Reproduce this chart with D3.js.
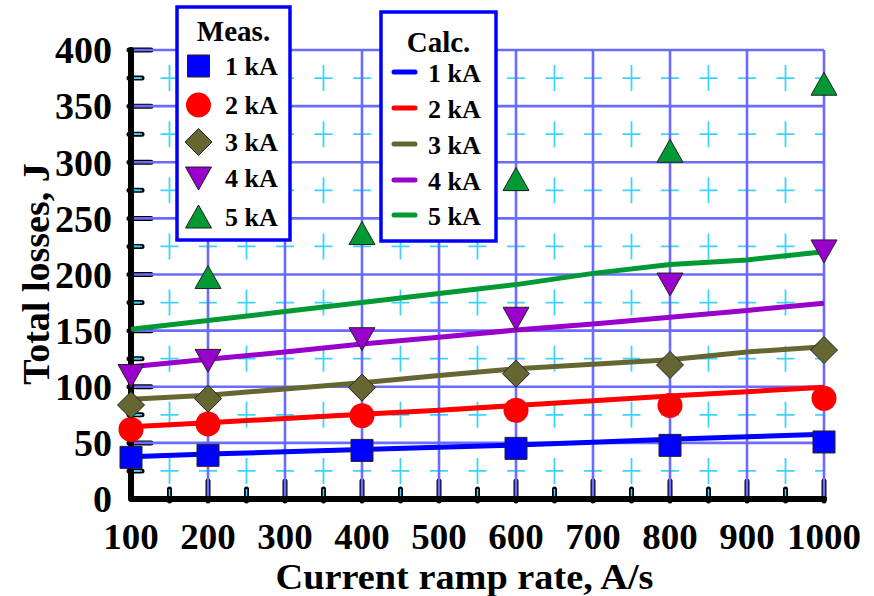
<!DOCTYPE html>
<html>
<head>
<meta charset="utf-8">
<script src="https://cdn.jsdelivr.net/npm/d3@7"></script>
<style>
  html, body { margin: 0; padding: 0; background: #fff; }
  svg { display: block; }
  text { font-family: "Liberation Serif", "Times New Roman", serif; font-weight: bold; fill: #000; }
</style>
</head>
<body>
<svg id="chart" width="874" height="596"></svg>
<script>
// ---------- data ----------
const seriesNames = ["1 kA", "2 kA", "3 kA", "4 kA", "5 kA"];
const seriesColors = ["#0000ff", "#ff0000", "#666633", "#9900cc", "#009933"];
const markerShapes = ["square", "circle", "diamond", "triangleDown", "triangleUp"];

const measRates = [100, 200, 400, 600, 800, 1000];
const meas1 = [37.1, 38.9, 43.3, 45.1, 47.8, 50.8];
const meas2 = [62.0, 66.8, 74.2, 79.0, 83.4, 89.7];
const meas3 = [83.7, 89.4, 99.2, 111.6, 119.4, 132.7];
const meas4 = [110.0, 123.5, 142.8, 161.0, 191.5, 221.0];
const meas5 = [null, 197.3, 236.5, 284.6, 309.8, 369.5];

const calcRates = [100, 200, 300, 400, 500, 600, 700, 800, 900, 1000];
const calc1 = [37.7, 40.0, 42.0, 44.2, 46.0, 48.1, 50.6, 53.2, 55.4, 57.6];
const calc2 = [64.4, 68.0, 71.7, 75.4, 79.0, 83.3, 87.5, 91.8, 95.6, 99.5];
const calc3 = [88.8, 92.5, 98.0, 103.6, 110.0, 116.0, 120.0, 124.0, 131.0, 135.7];
const calc4 = [117.9, 124.4, 131.0, 138.0, 144.0, 150.5, 156.0, 162.0, 168.0, 174.3];
const calc5 = [151.2, 159.0, 167.0, 175.0, 183.0, 191.0, 201.0, 209.0, 213.0, 220.3];

const xTickValues = [100, 200, 300, 400, 500, 600, 700, 800, 900, 1000];
const yTickValues = [0, 50, 100, 150, 200, 250, 300, 350, 400];
const xMinorValues = [150, 250, 350, 450, 550, 650, 750, 850, 950];
const yMinorValues = [25, 75, 125, 175, 225, 275, 325, 375];

const xTitle = "Current ramp rate, A/s";
const yTitle = "Total losses, J";
const measTitle = "Meas.";
const calcTitle = "Calc.";

const measSeries = [meas1, meas2, meas3, meas4, meas5];
const calcSeries = [calc1, calc2, calc3, calc4, calc5];

// ---------- layout ----------
const svg = d3.select("#chart");
const x = d3.scaleLinear().domain([100, 1000]).range([131, 824]);
const y = d3.scaleLinear().domain([0, 400]).range([499, 50]);
const [x0, x1] = x.range();
const [yb, yt] = y.range();

const majorGrid = "#6b6bff";
const minorGrid = "#3cd4ff";

// ---------- ticks (black, under grid) ----------
const tickG = svg.append("g");
tickG.selectAll(".ytM").data(yTickValues.filter(d => d > 0)).join("line")
  .attr("x1", x0 - 2).attr("x2", x0 + 20).attr("y1", d => y(d)).attr("y2", d => y(d))
  .attr("stroke", "#000").attr("stroke-width", 5).attr("stroke-linecap", "round");
tickG.selectAll(".ytm").data(yMinorValues).join("line")
  .attr("x1", x0 - 2).attr("x2", x0 + 11).attr("y1", d => y(d)).attr("y2", d => y(d))
  .attr("stroke", "#000").attr("stroke-width", 5).attr("stroke-linecap", "round");
tickG.selectAll(".xtM").data(xTickValues.filter(d => d > 100)).join("line")
  .attr("x1", d => x(d)).attr("x2", d => x(d)).attr("y1", yb + 2).attr("y2", yb - 18)
  .attr("stroke", "#000").attr("stroke-width", 5).attr("stroke-linecap", "round");
tickG.selectAll(".xtm").data(xMinorValues).join("line")
  .attr("x1", d => x(d)).attr("x2", d => x(d)).attr("y1", yb + 2).attr("y2", yb - 10)
  .attr("stroke", "#000").attr("stroke-width", 5).attr("stroke-linecap", "round");

// ---------- grid ----------
const gridG = svg.append("g");
const hPeriod = (x(150) - x(100));
gridG.selectAll(".hm").data(yMinorValues).join("line")
  .attr("x1", x0).attr("x2", x1).attr("y1", d => y(d)).attr("y2", d => y(d))
  .attr("stroke", minorGrid).attr("stroke-width", 1.8)
  .attr("stroke-dasharray", `18 ${hPeriod - 18}`)
  .attr("stroke-dashoffset", 9 - hPeriod);
const vPeriod = (y(0) - y(50));
gridG.selectAll(".vm").data(xMinorValues).join("line")
  .attr("x1", d => x(d)).attr("x2", d => x(d)).attr("y1", yt).attr("y2", yb)
  .attr("stroke", minorGrid).attr("stroke-width", 1.8)
  .attr("stroke-dasharray", `26 ${vPeriod - 26}`)
  .attr("stroke-dashoffset", (y(375) - yt) * -1 + 13);
gridG.selectAll(".xmc").data(xMinorValues).join("line")
  .attr("x1", d => x(d)).attr("x2", d => x(d)).attr("y1", yb).attr("y2", yb - 10)
  .attr("stroke", minorGrid).attr("stroke-width", 1.5);
gridG.selectAll(".ymc").data(yMinorValues).join("line")
  .attr("x1", x0).attr("x2", x0 + 11).attr("y1", d => y(d)).attr("y2", d => y(d))
  .attr("stroke", minorGrid).attr("stroke-width", 1.5);
gridG.selectAll(".hM").data(yTickValues.filter(d => d > 0)).join("line")
  .attr("x1", x0).attr("x2", x1).attr("y1", d => y(d)).attr("y2", d => y(d))
  .attr("stroke", majorGrid).attr("stroke-width", 2.6);
gridG.selectAll(".vM").data(xTickValues.filter(d => d > 100)).join("line")
  .attr("x1", d => x(d)).attr("x2", d => x(d)).attr("y1", yt).attr("y2", yb)
  .attr("stroke", majorGrid).attr("stroke-width", 2.6);

// ---------- axis lines ----------
svg.append("path")
  .attr("d", `M${x0},${yt} L${x0},${yb} L${x1},${yb}`)
  .attr("fill", "none").attr("stroke", "#000").attr("stroke-width", 6)
  .attr("stroke-linejoin", "round").attr("stroke-linecap", "round");

// ---------- tick labels ----------
svg.append("g").selectAll("text").data(yTickValues).join("text")
  .attr("x", 112).attr("y", d => y(d)).attr("dy", "0.35em")
  .attr("text-anchor", "end").attr("font-size", 38).text(d => d);
svg.append("g").selectAll("text").data(xTickValues).join("text")
  .attr("x", d => x(d)).attr("y", 549)
  .attr("text-anchor", "middle").attr("font-size", 36)
  .attr("textLength", d => String(d).length * 18.5).attr("lengthAdjust", "spacingAndGlyphs")
  .text(d => d);

// axis titles
svg.append("text").attr("x", (x0 + x1) / 2 - 13).attr("y", 589)
  .attr("text-anchor", "middle").attr("font-size", 36)
  .attr("textLength", 378).attr("lengthAdjust", "spacingAndGlyphs").text(xTitle);
svg.append("text").attr("transform", `translate(49,${274}) rotate(-90)`)
  .attr("text-anchor", "middle").attr("font-size", 38).text(yTitle);

// ---------- calc lines ----------
const line = d3.line().x((d, i) => x(calcRates[i])).y(d => y(d));
svg.append("g").selectAll("path").data(calcSeries).join("path")
  .attr("d", d => line(d))
  .attr("fill", "none").attr("stroke", (d, i) => seriesColors[i])
  .attr("stroke-width", 5).attr("stroke-linejoin", "round");

// ---------- markers ----------
function markerPath(shape) {
  switch (shape) {
    case "square": return "M-11,-11 L11,-11 L11,11 L-11,11 Z";
    case "circle": return d3.symbol(d3.symbolCircle, Math.PI * 12.5 * 12.5)();
    case "diamond": return "M0,-13.5 L13.5,0 L0,13.5 L-13.5,0 Z";
    case "triangleDown": return "M-13,-11 L13,-11 L0,12 Z";
    case "triangleUp": return "M-13,11 L13,11 L0,-12 Z";
  }
}
const markG = svg.append("g");
measSeries.forEach((vals, si) => {
  const pts = vals.map((v, i) => ({ r: measRates[i], v })).filter(p => p.v !== null);
  markG.append("g").selectAll("path").data(pts).join("path")
    .attr("transform", p => `translate(${x(p.r)},${y(p.v)})`)
    .attr("d", markerPath(markerShapes[si]))
    .attr("fill", seriesColors[si])
    .attr("stroke", markerShapes[si] === "circle" ? "none" : "#222")
    .attr("stroke-width", 1);
});

// ---------- legends ----------
const measY = [66, 105, 142, 178, 217];
const calcY = [72, 108, 144, 180, 215];

const lm = svg.append("g");
lm.append("rect").attr("x", 177).attr("y", 7).attr("width", 113).attr("height", 233)
  .attr("fill", "#fff").attr("stroke", "#0000ff").attr("stroke-width", 3.5);
lm.append("text").attr("x", 233.5).attr("y", 41).attr("text-anchor", "middle")
  .attr("font-size", 29).text(measTitle);
seriesNames.forEach((n, i) => {
  lm.append("path").attr("transform", `translate(198.5,${measY[i]})`)
    .attr("d", markerPath(markerShapes[i]))
    .attr("fill", seriesColors[i])
    .attr("stroke", markerShapes[i] === "circle" ? "none" : "#222").attr("stroke-width", 1);
  lm.append("text").attr("x", 225).attr("y", measY[i] + 9).attr("font-size", 26).text(n);
});

const lc = svg.append("g");
lc.append("rect").attr("x", 381).attr("y", 12).attr("width", 115).attr("height", 229)
  .attr("fill", "#fff").attr("stroke", "#0000ff").attr("stroke-width", 3.5);
lc.append("text").attr("x", 438.5).attr("y", 52).attr("text-anchor", "middle")
  .attr("font-size", 29).text(calcTitle);
seriesNames.forEach((n, i) => {
  lc.append("line").attr("x1", 394).attr("x2", 415).attr("y1", calcY[i]).attr("y2", calcY[i])
    .attr("stroke", seriesColors[i]).attr("stroke-width", 5).attr("stroke-linecap", "round");
  lc.append("text").attr("x", 428).attr("y", calcY[i] + 10).attr("font-size", 26).text(n);
});
</script>
</body>
</html>
